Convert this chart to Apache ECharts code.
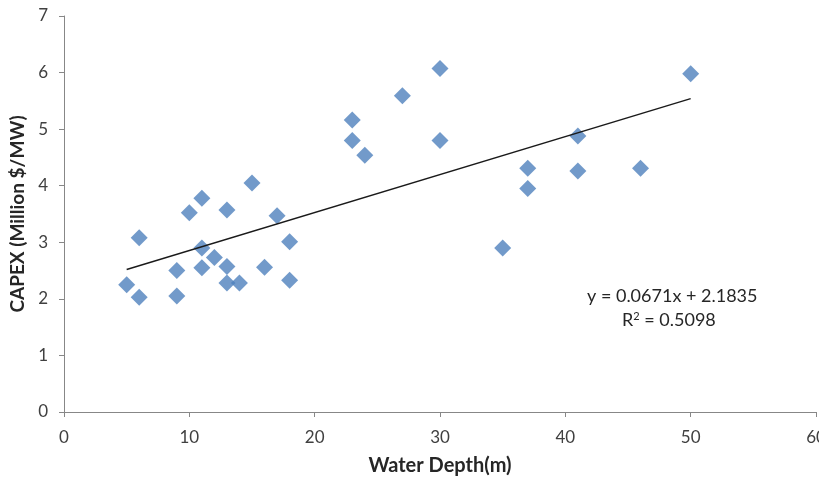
<!DOCTYPE html>
<html>
<head>
<meta charset="utf-8">
<script src="https://cdn.jsdelivr.net/npm/echarts@6/dist/echarts.min.js"></script>
<style>
  html, body { margin: 0; padding: 0; background: #fff; }
  #chart { width: 819px; height: 480px; }
</style>
</head>
<body>
<div id="chart"></div>
<script>
// Water depth (m) of each project
const waterDepth = [5, 6, 6, 9, 9, 10, 11, 11, 11, 12, 13, 13, 13, 14, 15, 16, 17, 18, 18,
                    23, 23, 24, 27, 30, 30, 35, 37, 37, 41, 41, 46, 50];
// CAPEX (Million $/MW) of each project
const capex = [2.25, 2.03, 3.08, 2.50, 2.05, 3.52, 3.78, 2.90, 2.55, 2.73, 3.57, 2.57, 2.28, 2.28, 4.05, 2.56, 3.47, 3.01, 2.33,
               5.16, 4.80, 4.54, 5.59, 6.07, 4.80, 2.90, 4.31, 3.95, 4.88, 4.26, 4.31, 5.98];
// Linear trend: y = slope * x + intercept, drawn over the data range
const trendSlope = 0.0671;
const trendIntercept = 2.1835;
const trendRange = [5, 50];
const rSquared = 0.5098;

const xTicks = { min: 0, max: 60, interval: 10 };
const yTicks = { min: 0, max: 7, interval: 1 };

const points = waterDepth.map((d, i) => [d, capex[i]]);
const trendPoints = trendRange.map(x => [x, trendSlope * x + trendIntercept]);

const font = 'Lato, "Open Sans", sans-serif';
const axisColor = '#878787';

const chart = echarts.init(document.getElementById('chart'), null, { renderer: 'canvas' });
chart.setOption({
  animation: false,
  backgroundColor: '#ffffff',
  grid: { left: 64, right: 3, top: 16, bottom: 68, containLabel: false, outerBoundsMode: 'none' },
  xAxis: {
    type: 'value',
    min: xTicks.min, max: xTicks.max, interval: xTicks.interval,
    name: 'Water Depth(m)',
    nameLocation: 'middle',
    nameGap: 44,
    nameTextStyle: { fontFamily: font, fontSize: 20, fontWeight: 'bold', color: '#262626' },
    axisLine: { show: true, lineStyle: { color: axisColor, width: 1 } },
    axisTick: { show: true, length: 5, lineStyle: { color: axisColor } },
    axisLabel: { fontFamily: font, fontSize: 17, color: '#404040', margin: 17 },
    splitLine: { show: false }
  },
  yAxis: {
    type: 'value',
    min: yTicks.min, max: yTicks.max, interval: yTicks.interval,
    name: 'CAPEX (Million $/MW)',
    nameLocation: 'middle',
    nameGap: 36,
    nameRotate: 90,
    nameTextStyle: { fontFamily: font, fontSize: 19, fontWeight: 'bold', color: '#262626' },
    axisLine: { show: true, lineStyle: { color: axisColor, width: 1 } },
    axisTick: { show: true, length: 5, lineStyle: { color: axisColor } },
    axisLabel: { fontFamily: font, fontSize: 17, color: '#404040', margin: 16 },
    splitLine: { show: false }
  },
  series: [
    {
      type: 'scatter',
      data: points,
      symbol: 'diamond',
      symbolSize: [17, 17],
      itemStyle: { color: '#4f81bd' },
      z: 3
    },
    {
      type: 'line',
      data: trendPoints,
      showSymbol: false,
      symbol: 'none',
      lineStyle: { color: '#1a1a1a', width: 1.4 },
      z: 4
    }
  ],
  graphic: [
    {
      type: 'text',
      left: 587, top: 287,
      style: {
        text: 'y = ' + trendSlope + 'x + ' + trendIntercept,
        font: '18px ' + font, fill: '#262626'
      }
    },
    {
      type: 'text',
      left: 622, top: 311,
      style: {
        rich: { sup: { fontSize: 11, verticalAlign: 'top', padding: [0, 0, 7, 0], fill: '#262626', fontFamily: font } },
        text: 'R{sup|2} = ' + rSquared.toFixed(4),
        font: '18px ' + font, fill: '#262626'
      }
    }
  ]
});
</script>
</body>
</html>
